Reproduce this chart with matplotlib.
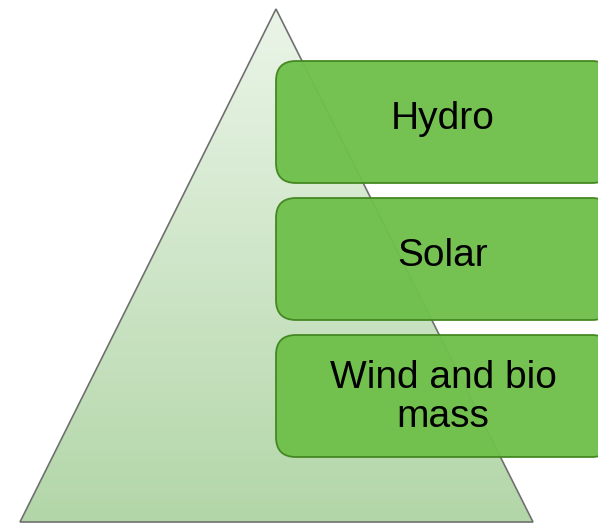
import matplotlib.pyplot as plt
from matplotlib.patches import Polygon, FancyBboxPatch
import numpy as np

# layers of the pyramid, top to bottom
labels = ["Hydro", "Solar", "Wind and bio\nmass"]

W, H = 598, 523
fig = plt.figure(figsize=(W / 100, H / 100), dpi=100)
ax = fig.add_axes([0, 0, 1, 1])
ax.set_xlim(0, W)
ax.set_ylim(H, 0)
ax.axis("off")

# triangle with vertical gradient
tri = [(276, 9), (20, 522), (533, 522)]
top = np.array([0.92, 0.96, 0.91])
bot = np.array([0.70, 0.84, 0.66])
t = np.linspace(0, 1, 256)[:, None]
grad = (top + (bot - top) * t)[:, None, :]
img = ax.imshow(grad, extent=(20, 533, 522, 9), aspect="auto", zorder=1)
poly = Polygon(tri, closed=True, facecolor="none", edgecolor="#707070", lw=1.2, zorder=2)
ax.add_patch(poly)
img.set_clip_path(poly)

# rounded boxes
x0, x1 = 276, 612
tops = [61, 198, 335]
hgt = 122
for lab, y in zip(labels, tops):
    box = FancyBboxPatch((x0, y), x1 - x0, hgt,
                         boxstyle="round,pad=0,rounding_size=20",
                         facecolor="#6fc04b", edgecolor="#41851f", lw=1.3,
                         alpha=0.96, zorder=3)
    ax.add_patch(box)
    lines = lab.split("\n")
    base = y + 68 - (len(lines) - 1) * 15
    for i, ln in enumerate(lines):
        ax.text(443, base + i * 39, ln, ha="center", va="baseline",
                fontsize=28, family="Liberation Sans", color="black", zorder=4)

fig.savefig("out.png", dpi=100)
